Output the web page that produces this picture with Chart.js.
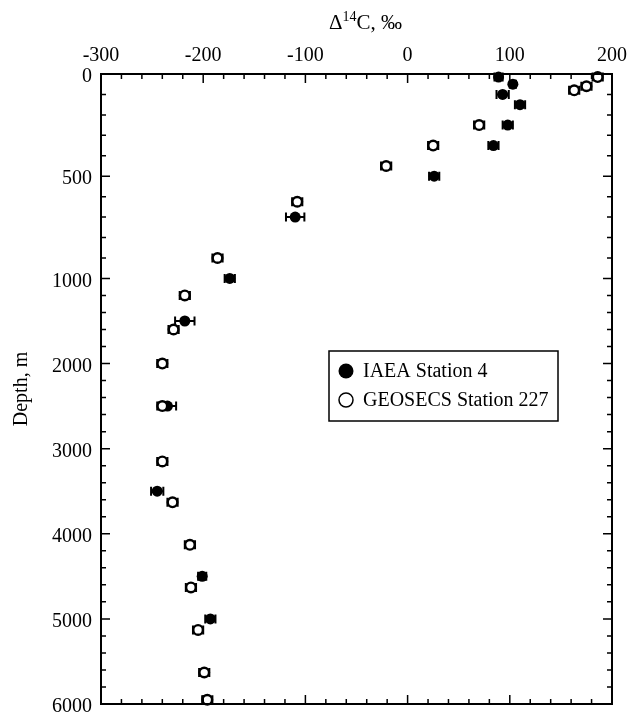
<!DOCTYPE html>
<html lang="en">
<head>
<meta charset="UTF-8">
<title>Δ14C depth profile</title>
<script src="https://cdn.jsdelivr.net/npm/chart.js"></script>
<style>
  html, body { margin: 0; padding: 0; background: #fff; }
  #wrap { width: 633px; height: 725px; position: relative; }
</style>
</head>
<body>
<div id="wrap"><canvas id="profile"></canvas></div>
<script>
// IAEA Station 4 (filled symbols)
const iaeaDepth = [15, 50, 100, 150, 250, 350, 500, 700, 1000, 1500, 2500, 3500, 4500, 5000];
const iaeaD14C  = [89, 103, 93, 110, 98, 84, 26, -110, -174, -218, -235, -245, -201, -193];
const iaeaErr   = [4, 3, 6, 5, 5, 5, 5, 9, 5, 9.5, 8.5, 6, 4, 5];

// GEOSECS Station 227 (open symbols)
const geosecsDepth = [15, 60, 80, 250, 350, 450, 625, 900, 1200, 1600, 2000, 2500, 3150, 3630, 4130, 4630, 5130, 5630, 5950];
const geosecsD14C  = [186, 175, 163, 70, 25, -21, -108, -186, -218, -229, -240, -240, -240, -230, -213, -212, -205, -199, -196];
const geosecsErr   = [5, 5, 5, 5, 5, 5, 5, 5, 5, 5, 5, 5, 5, 5, 5, 5, 5, 5, 5];

const xTicks = [-300, -200, -100, 0, 100, 200];
const depthTicks = [0, 500, 1000, 2000, 3000, 4000, 5000, 6000];
const legendLabels = ['IAEA Station 4', 'GEOSECS Station 227'];

const FONT = "'Liberation Serif', 'Times New Roman', serif";

// depth axis is stretched above 1000 m and compressed below
const BREAK_DEPTH = 1000;
const BREAK_FRAC = 0.3245;

class BrokenDepthScale extends Chart.LinearScale {
  static id = 'brokenDepth';
  static defaults = Chart.LinearScale.defaults;
  toDecimal(v) {
    if (v <= BREAK_DEPTH) return BREAK_FRAC * (v - this.min) / (BREAK_DEPTH - this.min);
    return BREAK_FRAC + (1 - BREAK_FRAC) * (v - BREAK_DEPTH) / (this.max - BREAK_DEPTH);
  }
  getPixelForValue(v) {
    if (v === null || v === undefined || isNaN(v)) return NaN;
    return this.getPixelForDecimal(this.toDecimal(v));
  }
  getValueForPixel(p) {
    const d = this.getDecimalForPixel(p);
    if (d <= BREAK_FRAC) return this.min + d / BREAK_FRAC * (BREAK_DEPTH - this.min);
    return BREAK_DEPTH + (d - BREAK_FRAC) / (1 - BREAK_FRAC) * (this.max - BREAK_DEPTH);
  }
}
Chart.register(BrokenDepthScale);

function toPoints(xs, ys) {
  return xs.map((v, i) => ({ x: v, y: ys[i] }));
}

const decorPlugin = {
  id: 'decor',
  beforeDatasetsDraw(chart) {
    const { ctx, scales: { x, y } } = chart;
    ctx.save();
    ctx.strokeStyle = '#000';
    ctx.lineWidth = 2;
    const drawErr = (xs, ys, errs) => {
      xs.forEach((v, i) => {
        const py = y.getPixelForValue(ys[i]);
        const x1 = x.getPixelForValue(v - errs[i]);
        const x2 = x.getPixelForValue(v + errs[i]);
        ctx.beginPath();
        ctx.moveTo(x1, py); ctx.lineTo(x2, py);
        ctx.moveTo(x1, py - 4.5); ctx.lineTo(x1, py + 4.5);
        ctx.moveTo(x2, py - 4.5); ctx.lineTo(x2, py + 4.5);
        ctx.stroke();
      });
    };
    drawErr(iaeaD14C, iaeaDepth, iaeaErr);
    drawErr(geosecsD14C, geosecsDepth, geosecsErr);
    ctx.restore();
  },
  afterDraw(chart) {
    const { ctx, chartArea: ca, scales: { x, y } } = chart;
    ctx.save();
    ctx.strokeStyle = '#000';
    ctx.fillStyle = '#000';

    // frame
    ctx.lineWidth = 2;
    ctx.strokeRect(ca.left, ca.top, ca.right - ca.left, ca.bottom - ca.top);

    // inward ticks, top and bottom
    ctx.lineWidth = 1.5;
    ctx.beginPath();
    for (let v = -300; v <= 200; v += 20) {
      const px = x.getPixelForValue(v);
      const len = xTicks.includes(v) ? 9 : 5;
      ctx.moveTo(px, ca.top); ctx.lineTo(px, ca.top + len);
      ctx.moveTo(px, ca.bottom); ctx.lineTo(px, ca.bottom - len);
    }
    // inward ticks, left and right
    const minor = [];
    for (let d = 0; d < 1000; d += 100) minor.push(d);
    for (let d = 1000; d <= 6000; d += 200) minor.push(d);
    minor.forEach(d => {
      const py = y.getPixelForValue(d);
      const len = depthTicks.includes(d) ? 9 : 5;
      ctx.moveTo(ca.left, py); ctx.lineTo(ca.left + len, py);
      ctx.moveTo(ca.right, py); ctx.lineTo(ca.right - len, py);
    });
    ctx.stroke();

    // x title with superscript
    const big = '21px ' + FONT, small = '14px ' + FONT;
    ctx.textBaseline = 'alphabetic';
    ctx.textAlign = 'left';
    ctx.font = big;
    const wD = ctx.measureText('\u0394').width;
    const wC = ctx.measureText('C, \u2030').width;
    ctx.font = small;
    const w14 = ctx.measureText('14').width;
    const total = wD + w14 + wC;
    let tx = (ca.left + ca.right) / 2 + 9 - total / 2;
    const ty = 29;
    ctx.font = big;
    ctx.fillText('\u0394', tx, ty); tx += wD;
    ctx.font = small;
    ctx.fillText('14', tx, ty - 8); tx += w14;
    ctx.font = big;
    ctx.fillText('C, \u2030', tx, ty);

    // y title
    ctx.save();
    ctx.translate(22, (ca.top + ca.bottom) / 2);
    ctx.rotate(-Math.PI / 2);
    ctx.textAlign = 'center';
    ctx.textBaseline = 'middle';
    ctx.font = '20px ' + FONT;
    ctx.fillText('Depth, m', 0, 0);
    ctx.restore();

    // legend box inside the plot
    const lx = ca.left + 228, ly = ca.top + 277, lw = 229, lh = 70;
    ctx.lineWidth = 1.5;
    ctx.strokeRect(lx, ly, lw, lh);
    ctx.font = '20px ' + FONT;
    ctx.textAlign = 'left';
    ctx.textBaseline = 'middle';
    ctx.beginPath();
    ctx.arc(lx + 17, ly + 20, 7.5, 0, Math.PI * 2);
    ctx.fill();
    ctx.fillText(legendLabels[0], lx + 34, ly + 21);
    ctx.beginPath();
    ctx.arc(lx + 17, ly + 49, 7, 0, Math.PI * 2);
    ctx.lineWidth = 1.5;
    ctx.stroke();
    ctx.fillText(legendLabels[1], lx + 34, ly + 50);

    ctx.restore();
  }
};

const ctx = document.getElementById('profile').getContext('2d');
const chart = new Chart(ctx, {
  type: 'scatter',
  data: {
    datasets: [
      {
        label: legendLabels[1],
        data: toPoints(geosecsD14C, geosecsDepth),
        pointStyle: 'circle',
        pointRadius: 4.8,
        pointBackgroundColor: '#fff',
        pointBorderColor: '#000',
        pointBorderWidth: 2.4,
        clip: false
      },
      {
        label: legendLabels[0],
        data: toPoints(iaeaD14C, iaeaDepth),
        pointStyle: 'circle',
        pointRadius: 5.5,
        pointBackgroundColor: '#000',
        pointBorderColor: '#000',
        pointBorderWidth: 0,
        clip: false
      }
    ]
  },
  options: {
    responsive: true,
    maintainAspectRatio: false,
    animation: false,
    layout: { padding: { left: 0, top: 0, right: 21, bottom: 13 } },
    plugins: {
      legend: { display: false },
      tooltip: { enabled: false }
    },
    scales: {
      x: {
        type: 'linear',
        position: 'top',
        min: -300,
        max: 200,
        grid: { display: false, drawTicks: false },
        border: { display: false },
        afterBuildTicks: s => { s.ticks = xTicks.map(v => ({ value: v })); },
        afterFit: s => { s.height = 74; },
        ticks: {
          autoSkip: false,
          maxRotation: 0,
          padding: 6,
          color: '#000',
          font: { family: FONT, size: 20 },
          callback: v => String(v)
        }
      },
      y: {
        type: 'brokenDepth',
        position: 'left',
        reverse: true,
        min: 0,
        max: 6000,
        grid: { display: false, drawTicks: false },
        border: { display: false },
        afterBuildTicks: s => { s.ticks = depthTicks.map(v => ({ value: v })); },
        afterFit: s => { s.width = 101; },
        ticks: {
          autoSkip: false,
          padding: 9,
          labelOffset: 3,
          color: '#000',
          font: { family: FONT, size: 20 },
          callback: v => String(v)
        }
      }
    }
  },
  plugins: [decorPlugin]
});
</script>
</body>
</html>
